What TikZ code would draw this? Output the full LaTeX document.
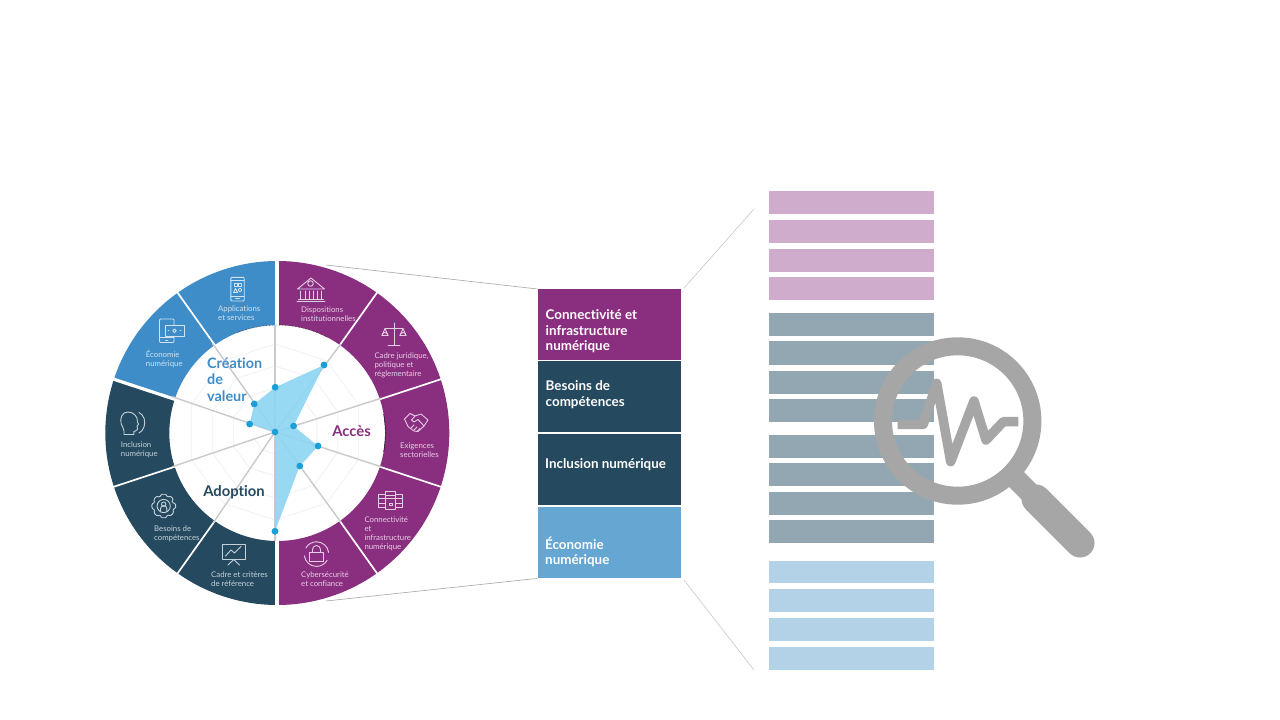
\documentclass[tikz,border=0pt]{standalone}
\usepackage{fontspec}
\setmainfont{Lato}[Ligatures=NoCommon]
\definecolor{cPurple}{HTML}{8A2E80}
\definecolor{cDark}{HTML}{25495F}
\definecolor{cBlue}{HTML}{3E8DC8}
\definecolor{cBoxBlue}{HTML}{66A6D2}
\definecolor{cStripP}{HTML}{D0ACCC}
\definecolor{cStripD}{HTML}{93A7B2}
\definecolor{cStripB}{HTML}{B3D2E8}
\definecolor{cMag}{HTML}{A6A6A6}
\definecolor{cTintP}{HTML}{E6CFE3}
\definecolor{cTintD}{HTML}{C6D2DA}
\definecolor{cTintB}{HTML}{CFE3F3}
\definecolor{cRadar}{HTML}{8FD5F1}
\definecolor{cDot}{HTML}{1A9FD8}
\definecolor{cAxis}{HTML}{CACACA}
\definecolor{cWeb}{HTML}{F1F1F1}
\tikzset{
  strip/.style={minimum width=165pt,minimum height=23pt,inner sep=0pt,anchor=north west},
  bigbox/.style={minimum width=143.5pt,minimum height=71pt,inner sep=0pt,anchor=north west},
  boxtext/.style={anchor=west,align=left,inner sep=0pt,text=white,font=\fontsize{13.4}{15.4}\selectfont\bfseries},
  seglabel/.style={anchor=west,align=left,inner sep=0pt,font=\fontsize{7.8}{9}\selectfont},
  cattext/.style={inner sep=0pt,font=\fontsize{14.8}{16.4}\selectfont\bfseries},
  zoomline/.style={draw=#1,line width=.6pt},
  axisline/.style={draw=cAxis,line width=1.4pt},
  dot/.style={circle,fill=cDot,inner sep=0pt,minimum size=6.6pt},
  icon/.style={line width=.9pt,line join=round,line cap=round},
}
\newcommand{\sector}[3]{\fill[#3] (#1:172pt) arc[start angle=#1,end angle=#2,radius=172pt] -- (#2:108pt) arc[start angle=#2,end angle=#1,radius=108pt] -- cycle;}
\begin{document}
\begin{tikzpicture}[x=1pt,y=-1pt]
\useasboundingbox (0,0) rectangle (1280,720);
\fill[white] (0,0) rectangle (1280,720);
% wheel
\begin{scope}[shift={(277.3,433)},x=1pt,y=1pt]
  \sector{90}{54.6}{cPurple}\sector{54.6}{18.2}{cPurple}\sector{18.2}{-18.2}{cPurple}\sector{-18.2}{-54.6}{cPurple}\sector{-54.6}{-90}{cPurple}
  \sector{270}{234.6}{cDark}\sector{234.6}{198.2}{cDark}\sector{198.2}{161.8}{cDark}
  \sector{161.8}{125.4}{cBlue}\sector{125.4}{90}{cBlue}
  \foreach \a in {54.6,18.2,-18.2,-54.6,125.4,198.2,234.6}{\draw[white,line width=1.7pt] (\a:107pt) -- (\a:173pt);}
  \draw[white,line width=3.2pt] (161.8:107pt) -- (161.8:173pt);
  \draw[white,line width=3.8pt] (0,-174) -- (0,174);
  \draw[black,line width=.45pt,densely dotted] (112:108pt) arc[start angle=112,end angle=62,radius=108pt];
  \draw[black,line width=.45pt] (10:108pt) arc[start angle=10,end angle=-10,radius=108pt];
\end{scope}
% radar
\coordinate (rc) at (275,432);
\begin{scope}[shift={(rc)},x=1pt,y=1pt]
  \foreach \r in {22,44,66,88}{
    \draw[cWeb,line width=.8pt] (90:\r pt) -- (54:\r pt) -- (18:\r pt) -- (-18:\r pt) -- (-54:\r pt) -- (-90:\r pt) -- (-126:\r pt) -- (-162:\r pt) -- (162:\r pt) -- (126:\r pt) -- cycle;
  }
\end{scope}
\coordinate (a1) at (340.7,344);
\coordinate (a2) at (381,398.3);
\coordinate (a3) at (381,466.7);
\coordinate (a4) at (341,522.3);
\coordinate (a5) at (275,541);
\coordinate (a6) at (213.3,522.7);
\coordinate (a7) at (172.3,466.7);
\coordinate (a8) at (172.3,396.7);
\coordinate (a9) at (212.3,343.3);
\coordinate (a10) at (275,325);
\foreach \n in {1,...,10}{\draw[axisline] (rc) -- (a\n);}
\node[dot] (p1) at (324,365) {};
\node[dot] (p2) at (293.5,426) {};
\node[dot] (p3) at (318,446) {};
\node[dot] (p4) at (299.7,466) {};
\node[dot] (p5) at (275,531.3) {};
\node[dot] (p6) at (249.7,424) {};
\node[dot] (p7) at (254.3,404) {};
\node[dot] (p8) at (275.2,387.3) {};
\fill[cRadar,fill opacity=.92] (p8.center) -- (p1.center) -- (p2.center) -- (p3.center) -- (p4.center) -- (p5.center) -- (rc) -- (p6.center) -- (p7.center) -- cycle;
\foreach \n in {1,...,8}{\node[dot] at (p\n) {};}
\node[dot] (rcd) at (rc) {};
% category labels
\node[cattext,text=cBlue,anchor=north west,align=left,font=\fontsize{14.4}{16.4}\selectfont\bfseries] (catv) at (207,357.5) {Création\\de\\valeur};
\node[cattext,text=cPurple] (cata) at (351.5,431) {Accès};
\node[cattext,text=cDark] (catd) at (234,492.5) {Adoption};
% segment labels
\node[seglabel,text=cTintP] (l1) at (301,313.7) {Dispositions\\institutionnelles};
\node[seglabel,text=cTintP] (l2) at (374.3,365) {Cadre juridique,\\politique et\\réglementaire};
\node[seglabel,text=cTintP] (l3) at (400,450.2) {Exigences\\sectorielles};
\node[seglabel,text=cTintP] (l4) at (364.3,534.2) {Connectivité\\et\\infrastructure\\numérique};
\node[seglabel,text=cTintP] (l5) at (301,578.8) {Cybersécurité\\et confiance};
\node[seglabel,text=cTintD] (l6) at (211,578.7) {Cadre et critères\\de référence};
\node[seglabel,text=cTintD] (l7) at (154,534.2) {Besoins de\\compétences};
\node[seglabel,text=cTintD] (l8) at (120.7,450) {Inclusion\\numérique};
\node[seglabel,text=cTintB] (l9) at (145.7,359.4) {Économie\\numérique};
\node[seglabel,text=cTintB] (l10) at (218,312.7) {Applications\\et services};
% icon: bank
\begin{scope}[icon,draw=cTintP]
  \draw (297.5,289) -- (311,278) -- (324.5,289) -- cycle;
  \draw (310.5,283.5) circle[radius=2.8];
  \foreach \x in {300.5,305,309,313,317,321.5}{\draw (\x,291) -- (\x,299);}
  \draw (297,301) -- (325,301);
  \draw (298.5,299.3) -- (323.5,299.3);
\end{scope}
% icon: scales
\begin{scope}[icon,draw=cTintP]
  \draw (394,323) -- (394,345);
  \draw (388,345.5) -- (400,345.5);
  \draw (385,328.5) -- (403,328.5);
  \draw (385,328.5) -- (382,335.5) (385,328.5) -- (388,335.5);
  \draw (403,328.5) -- (400,335.5) (403,328.5) -- (406,335.5);
  \draw (382,335.5) -- (388,335.5) arc[start angle=0,end angle=-180,radius=3] -- cycle;
  \draw (400,335.5) -- (406,335.5) arc[start angle=0,end angle=-180,radius=3] -- cycle;
\end{scope}
% icon: handshake
\begin{scope}[icon,draw=cTintP]
  \draw (404.5,419) -- (410,413.5) -- (415,416) -- (421,414) -- (428,420) -- (424,426) -- (418,431.5) -- (414,431) -- (408,426.5) -- cycle;
  \draw (415,416) -- (411.5,420) -- (414,422) -- (418,419.5) -- (424,426);
  \draw (411,428) -- (414,425) (414,430) -- (417,427) (417.5,431) -- (420,428.5);
\end{scope}
% icon: server
\begin{scope}[icon,draw=cTintP]
  \draw (378.5,494) rectangle (402.5,507.5);
  \fill[cPurple] (385.7,491.7) rectangle (395.7,509);
  \draw (385.7,491.7) rectangle (395.7,509);
  \draw (378.5,498.5) -- (402.5,498.5) (378.5,503) -- (385.7,503) (395.7,503) -- (402.5,503);
  \draw (385.7,495) -- (395.7,495);
  \draw (389,503.5) rectangle (392.5,505.5);
\end{scope}
% icon: lock
\begin{scope}[icon,draw=cTintP]
  \draw (316.5,541.8) arc[start angle=-90,end angle=-8,radius=12.3];
  \draw (316.5,566.4) arc[start angle=90,end angle=172,radius=12.3];
  \draw (316.5,541.8) arc[start angle=-90,end angle=-150,radius=12.3];
  \draw (316.5,566.4) arc[start angle=90,end angle=30,radius=12.3];
  \draw (309.8,552) rectangle (323.2,561);
  \draw (312.5,552) -- (312.5,549.5) arc[start angle=180,end angle=360,radius=4] -- (320.5,552);
\end{scope}
% icon: chart
\begin{scope}[icon,draw=cTintD]
  \draw (222.5,544.5) rectangle (245,559.5);
  \draw (225.5,556) -- (231,550) -- (234.5,553) -- (241,546.5);
  \draw (233.7,559.5) -- (228,565) (233.7,559.5) -- (239.5,565);
\end{scope}
% icon: gear
\begin{scope}[icon,draw=cTintD,shift={(163.7,506)},x=1pt,y=1pt]
  \draw[rounded corners=1pt] (0:12) -- (11:12) -- (20:9.6) -- (34:9.6) -- (34:12) -- (56:12) -- (65:9.6) -- (79:12) -- (101:12) -- (115:9.6) -- (124:12) -- (146:12) -- (160:9.6) -- (169:12) -- (191:12) -- (205:9.6) -- (214:12) -- (236:12) -- (250:9.6) -- (259:12) -- (281:12) -- (295:9.6) -- (304:12) -- (326:12) -- (340:9.6) -- (349:12) -- cycle;
  \draw (0,0) circle[radius=6.6];
  \draw (0,1.8) circle[radius=2.2];
  \draw (-3.2,-5.6) -- (-3.2,-2.8) arc[start angle=180,end angle=0,radius=3.2] -- (3.2,-5.6);
\end{scope}
% icon: head
\begin{scope}[icon,draw=cTintD]
  \draw (139,412.5) .. controls (144,415) and (146,421) .. (144,427) .. controls (143,430) and (141,432) .. (139,433);
  \draw (134,434) .. controls (133,431.5) and (134,431) .. (135.5,431) .. controls (138,431) and (138,428) .. (137,426) .. controls (139,425) and (139,424) .. (137.5,422) .. controls (138,416) and (133,412) .. (128,412) .. controls (122,412) and (120,418) .. (121,423) .. controls (122,427) and (124,428) .. (124,431) -- (124,434.5) -- (134,434.5);
\end{scope}
% icon: phone with money
\begin{scope}[icon,draw=cTintB]
  \draw[rounded corners=1pt] (159.5,319) rectangle (174,342.5);
  \draw (159.5,337) -- (174,337) (165.5,340) -- (168,340);
  \fill[cBlue] (165,325.5) rectangle (184,336);
  \draw (165,325.5) rectangle (184,336);
  \draw (174.5,330.7) circle[radius=1.8];
  \draw (168,330.7) -- (169,330.7) (180,330.7) -- (181,330.7);
\end{scope}
% icon: app phone
\begin{scope}[icon,draw=cTintB]
  \draw[rounded corners=1pt] (230.8,277.3) rectangle (244.2,301);
  \draw (230.8,280.5) -- (244.2,280.5) (230.8,296.5) -- (244.2,296.5) (235.5,298.8) -- (239.5,298.8);
  \draw (234.5,283.5) rectangle (237,286) (238,283.5) rectangle (241.5,286);
  \draw (233.5,292.5) -- (235.5,288.5) -- (237.5,292.5) -- cycle;
  \draw (240,290) circle[radius=1.9];
\end{scope}
% boxes
\node[bigbox,fill=cPurple] (b1) at (537.5,289) {};
\node[bigbox,fill=cDark] (b2) at (537.5,361) {};
\node[bigbox,fill=cDark] (b3) at (537.5,434) {};
\node[bigbox,fill=cBoxBlue] (b4) at (537.5,507) {};
\node[boxtext] (t1) at (545.5,331.5) {Connectivité et\\infrastructure\\numérique};
\node[boxtext] (t2) at (545.5,394.5) {Besoins de\\compétences};
\node[boxtext] (t3) at (545,464.5) {Inclusion numérique};
\node[boxtext] (t4) at (545,552) {Économie\\numérique};
% zoom lines
\coordinate (wt) at (326,265);
\coordinate (wb) at (326,601);
\coordinate (st) at (754,209);
\coordinate (sb) at (754,670);
\coordinate (bt) at (684,288);
\coordinate (bb) at (684,580);
\draw[zoomline=cMag] (wt) -- (b1.north west);
\draw[zoomline=cMag] (wb) -- (b4.south west);
\draw[zoomline=black!22] (bt) -- (st);
\draw[zoomline=black!22] (bb) -- (sb);
% strips
\foreach \y/\h [count=\i] in {191/23,220/23,249/23,277/23}{\node[strip,fill=cStripP,minimum height=\h pt] (sp\i) at (769,\y) {};}
\foreach \y/\h [count=\i] in {313/23,341/24,371/23,399/23,435/23,463/22.5,492/23,520/23}{\node[strip,fill=cStripD,minimum height=\h pt] (sd\i) at (769,\y) {};}
\foreach \y/\h [count=\i] in {561/22,589/23,618/22.5,647/22.5}{\node[strip,fill=cStripB,minimum height=\h pt] (sb\i) at (769,\y) {};}
% magnifier
\draw[cMag,line width=18pt] (957.7,421) circle[radius=74.7];
\draw[cMag,line width=21pt] (1014,477) -- (1036,499);
\draw[cMag,line width=29pt,line cap=round] (1036,499) -- (1080,543);
\draw[cMag,line width=9.5pt,line join=round] (897.7,424.3) -- (923.3,424.3) -- (936.7,383.3) -- (950.7,461.7) -- (974,401) -- (986,440) -- (1003.3,421.7) -- (1018.3,421.7);
\end{tikzpicture}
\end{document}
